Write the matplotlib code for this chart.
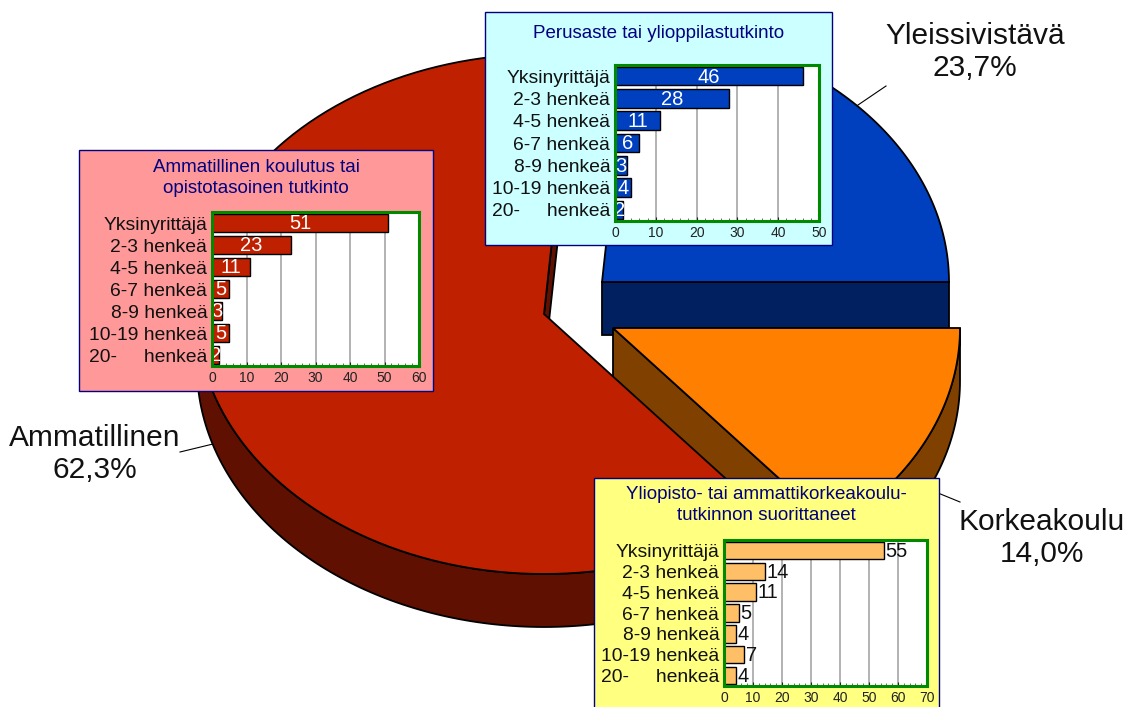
"""
3D style pie of education level with three small bar charts on top
"""
import numpy as np
import matplotlib
matplotlib.use('Agg')
import matplotlib.pyplot as plt
from matplotlib.patches import Polygon, Rectangle

plt.rcParams['font.family'] = ['Liberation Sans', 'DejaVu Sans']

W, H = 1129, 707

# pie shares (percent)
pie_names = ['Yleissivistävä', 'Korkeakoulu', 'Ammatillinen']
pie_shares = [23.7, 14.0, 62.3]

categories = ['Yksinyrittäjä', '2-3 henkeä', '4-5 henkeä', '6-7 henkeä',
              '8-9 henkeä', '10-19 henkeä', '20-     henkeä']
values_red = [51, 23, 11, 5, 3, 5, 2]
values_blue = [46, 28, 11, 6, 3, 4, 2]
values_orange = [55, 14, 11, 5, 4, 7, 4]

title_red = 'Ammatillinen koulutus tai\nopistotasoinen tutkinto'
title_blue = 'Perusaste tai ylioppilastutkinto'
title_orange = 'Yliopisto- tai ammattikorkeakoulu-\ntutkinnon suorittaneet'

RX, RY, DEPTH = 347, 260, 53


def arc(cx, cy, a0, a1, n=120):
    t = np.radians(np.linspace(a0, a1, n))
    return np.column_stack([cx + RX * np.cos(t), cy - RY * np.sin(t)])


def wedge(ax, cx, cy, a0, a1, top, side):
    pts = arc(cx, cy, a0, a1)
    # outer wall, only the part facing the viewer
    lo, hi = min(a0, a1), max(a0, a1)
    t = np.arange(np.floor(lo), np.ceil(hi) + 1)
    t = t[(t >= lo) & (t <= hi) & (np.sin(np.radians(t)) <= 0.001)]
    if len(t) > 1:
        wall = arc(cx, cy, t[0], t[-1], len(t))
        low = wall + [0, DEPTH]
        ax.add_patch(Polygon(np.vstack([wall, low[::-1]]), fc=side, ec='black', lw=1.3, zorder=2))
    return pts


def edge_wall(ax, cx, cy, angle, side):
    tip = arc(cx, cy, angle, angle, 1)[0]
    p = [[cx, cy], tip, tip + [0, DEPTH], [cx, cy + DEPTH]]
    ax.add_patch(Polygon(p, fc=side, ec='black', lw=1.3, zorder=2))


def inset(box, plot, xmax, values, title, title_y, face, bar, text_col, inside):
    ax_main.add_patch(Rectangle((box[0], box[1]), box[2] - box[0], box[3] - box[1],
                                fc=face, ec='#000080', lw=1, zorder=5))
    ax_main.text((box[0] + box[2]) / 2, title_y, title, color='#000080', fontsize=13.5,
                 ha='center', va='center', linespacing=1.35, zorder=6)
    a = fig.add_axes([plot[0] / W, 1 - plot[3] / H, (plot[2] - plot[0]) / W, (plot[3] - plot[1]) / H],
                     zorder=10)
    y = np.arange(len(values))
    a.barh(y, values, height=0.83, color=bar, edgecolor='black', lw=1, zorder=3)
    a.set_xlim(0, xmax)
    a.set_ylim(len(values) - 0.5, -0.5)
    a.set_yticks(y)
    a.set_yticklabels(categories, fontsize=13.9, color='#111111')
    a.tick_params(axis='y', length=0, pad=3.5)
    a.set_xticks(np.arange(0, xmax + 1, 10))
    a.set_xticks(np.arange(0, xmax + 1, 2), minor=True)
    a.tick_params(axis='x', which='major', labelsize=10, length=3, width=0.8, direction='in', pad=3.5, colors='#222222')
    a.tick_params(axis='x', which='minor', length=2, width=0.6, direction='in', colors='#555555')
    a.grid(True, axis='x', which='major', color='#a6a6a6', lw=1.2, zorder=1)
    a.set_axisbelow(True)
    for s in a.spines.values():
        s.set_color('#008A00')
        s.set_linewidth(2.2)
        s.set_zorder(6)
    for yi, v in zip(y, values):
        if inside:
            a.text(v / 2, yi + 0.04, str(v), color=text_col, fontsize=14.5, ha='center', va='center', zorder=5)
        else:
            a.text(v + xmax * 0.008, yi + 0.04, str(v), color=text_col, fontsize=14.5, ha='left', va='center', zorder=5, clip_on=False)
    return a


fig = plt.figure(figsize=(W / 100, H / 100), dpi=100)
ax_main = fig.add_axes([0, 0, 1, 1])
ax_main.set_xlim(0, W)
ax_main.set_ylim(H, 0)
ax_main.axis('off')

# slice angles, going clockwise from due east for orange, ccw for blue
blue_deg = pie_shares[0] * 3.6
orange_deg = pie_shares[1] * 3.6
red_deg = pie_shares[2] * 3.6

# blue slice
bc = (602, 282)
edge_wall(ax_main, bc[0], bc[1], 0, '#002060')
ax_main.add_patch(Polygon(np.vstack([[bc], arc(bc[0], bc[1], 0, blue_deg)]), fc='#0040BF', ec='black', lw=1.3, zorder=3))

# orange slice
oc = (613, 328)
edge_wall(ax_main, oc[0], oc[1], -orange_deg, '#804000')
wedge(ax_main, oc[0], oc[1], -orange_deg, 0, '#FF8000', '#804000')
ax_main.add_patch(Polygon(np.vstack([[oc], arc(oc[0], oc[1], -orange_deg, 0)]), fc='#FF8000', ec='black', lw=1.3, zorder=3))

# red slice
rc = (544, 314)
edge_wall(ax_main, rc[0], rc[1], 360 - orange_deg - red_deg, '#5F1000')
wedge(ax_main, rc[0], rc[1], -orange_deg - red_deg, -orange_deg, '#BF2000', '#5F1000')
ax_main.add_patch(Polygon(np.vstack([[rc], arc(rc[0], rc[1], -orange_deg - red_deg, -orange_deg)]), fc='#BF2000', ec='black', lw=1.3, zorder=3))

# leader lines and pie labels
ax_main.plot([858, 886], [105, 86], color='black', lw=0.8, zorder=4)
ax_main.plot([180, 213], [452, 444], color='black', lw=0.8, zorder=1)
ax_main.plot([938, 960], [493, 502], color='black', lw=0.8, zorder=4)
ax_main.text(975, 52, f'{pie_names[0]}\n{pie_shares[0]:.1f}%'.replace('.', ','), fontsize=21.5, ha='center', va='center', linespacing=1.22, color='#111111')
ax_main.text(95, 454, f'{pie_names[2]}\n{pie_shares[2]:.1f}%'.replace('.', ','), fontsize=21.5, ha='center', va='center', linespacing=1.22, color='#111111')
ax_main.text(1042, 538, f'{pie_names[1]}\n{pie_shares[1]:.1f}%'.replace('.', ','), fontsize=21.5, ha='center', va='center', linespacing=1.22, color='#111111')

inset((79, 150, 433, 391), (212, 212, 419, 366), 60, values_red, title_red, 178, '#FF9999', '#BF2000', 'white', True)
inset((485, 12, 832, 245), (615, 65, 819, 221), 50, values_blue, title_blue, 33, '#CCFFFF', '#0040BF', 'white', True)
inset((594, 478, 939, 712), (724, 540, 927, 686), 70, values_orange, title_orange, 505, '#FFFF80', '#FFBF66', '#111111', False)

plt.savefig('out.png', dpi=100)
plt.close()
